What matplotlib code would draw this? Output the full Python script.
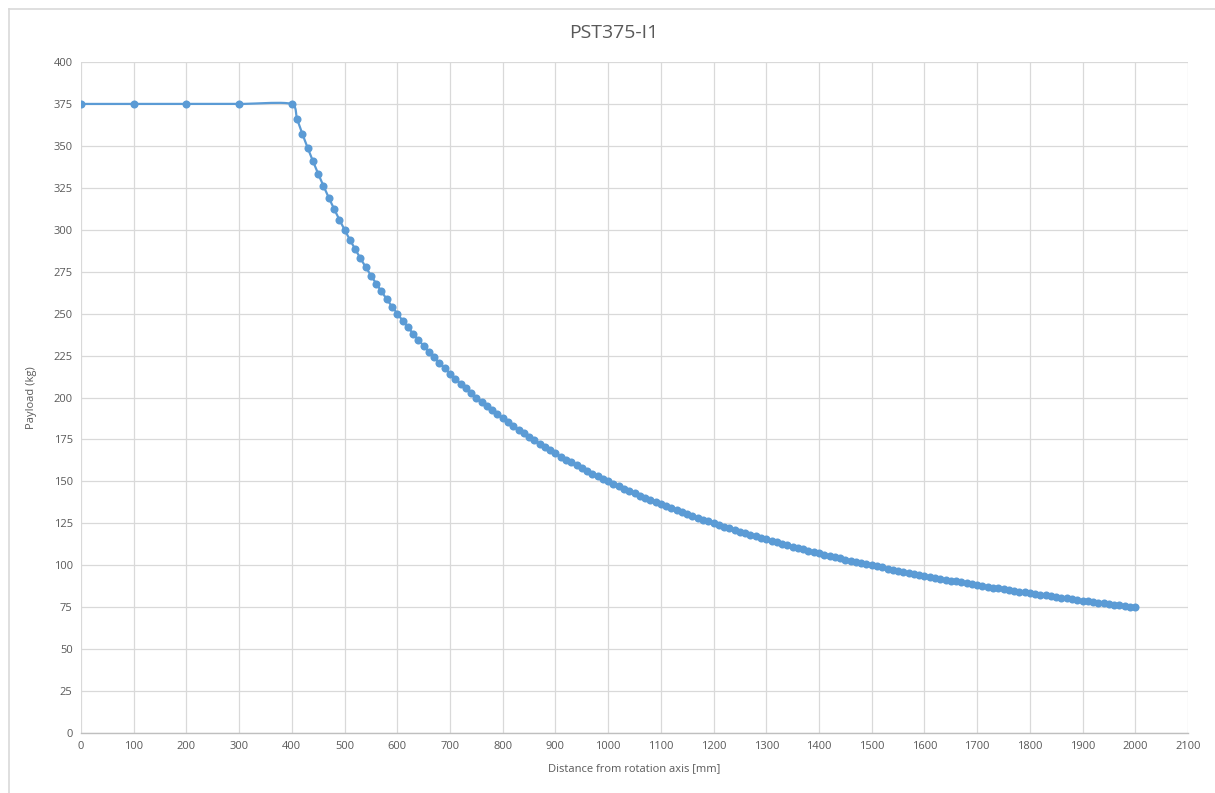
import numpy as np
from matplotlib import pyplot as plt
from matplotlib.lines import Line2D

# distance from rotation axis [mm]
distance = [0, 100, 200, 300, 400] + list(range(410, 2001, 10))

# payload [kg]
payload = [
    375.0, 375.0, 375.0, 375.0, 375.0,
    365.9, 357.1, 348.8, 340.9, 333.3, 326.1, 319.1, 312.5, 306.1, 300.0,
    294.1, 288.5, 283.0, 277.8, 272.7, 267.9, 263.2, 258.6, 254.2, 250.0,
    245.9, 241.9, 238.1, 234.4, 230.8, 227.3, 223.9, 220.6, 217.4, 214.3,
    211.3, 208.3, 205.5, 202.7, 200.0, 197.4, 194.8, 192.3, 189.9, 187.5,
    185.2, 182.9, 180.7, 178.6, 176.5, 174.4, 172.4, 170.5, 168.5, 166.7,
    164.8, 163.0, 161.3, 159.6, 157.9, 156.3, 154.6, 153.1, 151.5, 150.0,
    148.5, 147.1, 145.6, 144.2, 142.9, 141.5, 140.2, 138.9, 137.6, 136.4,
    135.1, 133.9, 132.7, 131.6, 130.4, 129.3, 128.2, 127.1, 126.1, 125.0,
    124.0, 123.0, 122.0, 121.0, 120.0, 119.0, 118.1, 117.2, 116.3, 115.4,
    114.5, 113.6, 112.8, 111.9, 111.1, 110.3, 109.5, 108.7, 107.9, 107.1,
    106.4, 105.6, 104.9, 104.2, 103.4, 102.7, 102.0, 101.4, 100.7, 100.0,
    99.3, 98.7, 98.0, 97.4, 96.8, 96.2, 95.5, 94.9, 94.3, 93.8,
    93.2, 92.6, 92.0, 91.5, 90.9, 90.4, 89.8, 89.3, 88.8, 88.2,
    87.7, 87.2, 86.7, 86.2, 85.7, 85.2, 84.7, 84.3, 83.8, 83.3,
    82.9, 82.4, 82.0, 81.5, 81.1, 80.6, 80.2, 79.8, 79.4, 78.9,
    78.5, 78.1, 77.7, 77.3, 76.9, 76.5, 76.1, 75.8, 75.4, 75.0,
]

x_ticks = list(range(0, 2101, 100))
y_ticks = list(range(0, 401, 25))

BLUE = '#5B9BD5'
GRID = '#D9D9D9'
TXT = '#595959'


def smooth_line(xs, ys, n=12):
    """Excel-like smoothed line: cubic Bezier with tension 1/6"""
    xs = np.asarray(xs, float)
    ys = np.asarray(ys, float)
    px, py = [xs[0]], [ys[0]]
    t = np.linspace(0, 1, n)[1:]
    for i in range(len(xs) - 1):
        i0 = max(i - 1, 0)
        i3 = min(i + 2, len(xs) - 1)
        c1x = xs[i] + (xs[i + 1] - xs[i0]) / 6
        c1y = ys[i] + (ys[i + 1] - ys[i0]) / 6
        c2x = xs[i + 1] - (xs[i3] - xs[i]) / 6
        c2y = ys[i + 1] - (ys[i3] - ys[i]) / 6
        # keep control points inside the segment in x
        c1x = min(max(c1x, xs[i]), xs[i + 1])
        c2x = min(max(c2x, xs[i]), xs[i + 1])
        bx = ((1 - t) ** 3 * xs[i] + 3 * (1 - t) ** 2 * t * c1x
              + 3 * (1 - t) * t ** 2 * c2x + t ** 3 * xs[i + 1])
        by = ((1 - t) ** 3 * ys[i] + 3 * (1 - t) ** 2 * t * c1y
              + 3 * (1 - t) * t ** 2 * c2y + t ** 3 * ys[i + 1])
        px.extend(bx)
        py.extend(by)
    return px, py


plt.rcParams['font.family'] = ['Open Sans', 'DejaVu Sans']

fig = plt.figure(figsize=(12.15, 7.93), dpi=100)
# chart frame: only top and left edges fall inside the picture
fx, fy = 8.5 / 1215, 1 - 8.5 / 793
fig.lines.append(Line2D([fx, 1], [fy, fy], transform=fig.transFigure,
                        color=GRID, linewidth=1.2))
fig.lines.append(Line2D([fx, fx], [0, fy], transform=fig.transFigure,
                        color=GRID, linewidth=1.2))

ax = fig.add_axes([81 / 1215, 1 - 733 / 793, (1188 - 81) / 1215, (733 - 62) / 793])

lx, ly = smooth_line(distance, payload)
ax.plot(lx, ly, color=BLUE, linewidth=1.6, zorder=3)
ax.plot(distance, payload, linestyle='none', marker='o', markersize=5.8,
        color=BLUE, markeredgewidth=0, zorder=4)

ax.set_xlim(0, 2100)
ax.set_ylim(0, 400)
ax.set_xticks(x_ticks)
ax.set_yticks(y_ticks)
ax.grid(True, color=GRID, linewidth=0.9)
ax.set_axisbelow(True)
ax.tick_params(length=0, labelsize=8, colors=TXT, pad=6)
for s in ['left', 'top', 'right']:
    ax.spines[s].set_visible(False)
ax.spines['bottom'].set_color('#BFBFBF')
ax.spines['bottom'].set_linewidth(1.0)

ax.set_xlabel('Distance from rotation axis [mm]', fontsize=8, color=TXT, labelpad=8)
ax.set_ylabel('Payload (kg)', fontsize=8, color=TXT, labelpad=12)
fig.text(614 / 1215, 1 - 33 / 793, 'PST375-I1', ha='center', va='center',
         fontsize=14, color=TXT)

fig.savefig('out.png', dpi=100)
